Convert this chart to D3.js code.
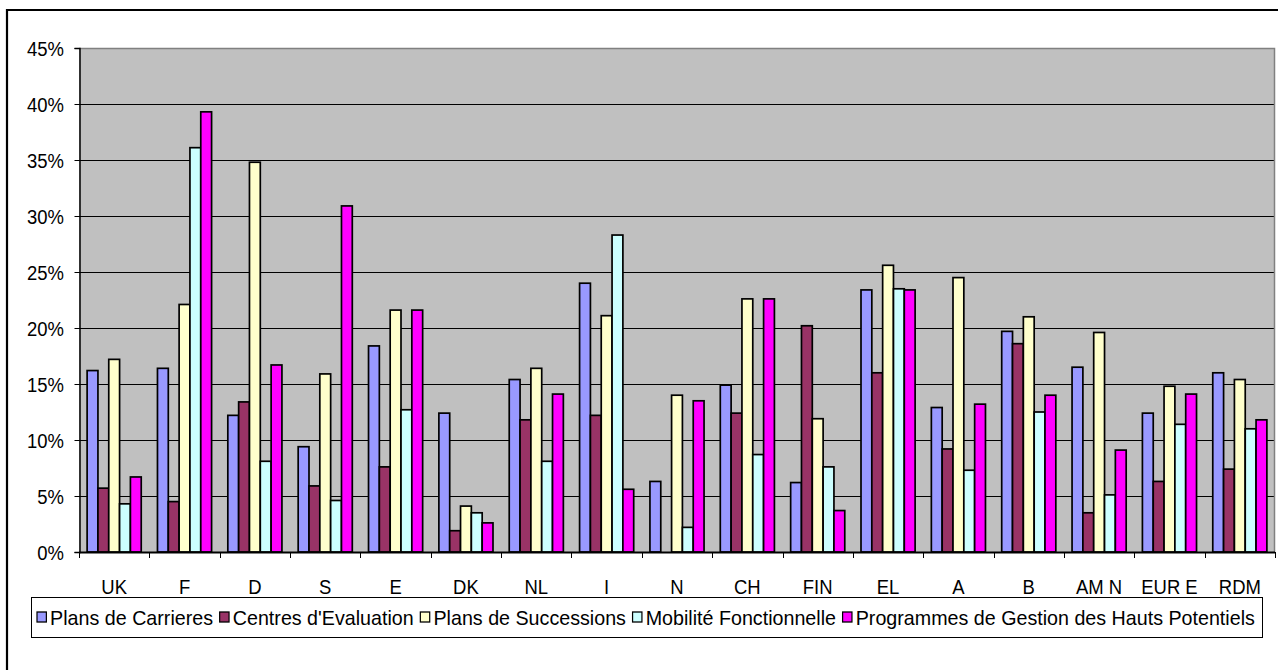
<!DOCTYPE html>
<html>
<head>
<meta charset="utf-8">
<script src="https://cdn.jsdelivr.net/npm/d3@7"></script>
<style>
  html, body { margin: 0; padding: 0; background: #fff; }
  svg { display: block; font-family: "Liberation Sans", Arial, sans-serif; }
</style>
</head>
<body>
<svg id="chart" width="1278" height="670"></svg>
<script>
// Countries / regions on the category axis
const categories = ["UK", "F", "D", "S", "E", "DK", "NL", "I", "N", "CH", "FIN", "EL", "A", "B", "AM N", "EUR E", "RDM"];

// Share of companies using each practice (%)
const plansCarrieres     = [16.2, 16.4, 12.2, 9.4, 18.4, 12.4, 15.4, 24.0, 6.3, 14.9, 6.2, 23.4, 12.9, 19.7, 16.5, 12.4, 16.0];
const centresEvaluation  = [5.7, 4.5, 13.4, 5.9, 7.6, 1.9, 11.8, 12.2, 0, 12.4, 20.2, 16.0, 9.2, 18.6, 3.5, 6.3, 7.4];
const plansSuccessions   = [17.2, 22.1, 34.8, 15.9, 21.6, 4.1, 16.4, 21.1, 14.0, 22.6, 11.9, 25.6, 24.5, 21.0, 19.6, 14.8, 15.4];
const mobiliteFonction   = [4.3, 36.1, 8.1, 4.6, 12.7, 3.5, 8.1, 28.3, 2.2, 8.7, 7.6, 23.5, 7.3, 12.5, 5.1, 11.4, 11.0];
const programmesHautsPot = [6.7, 39.3, 16.7, 30.9, 21.6, 2.6, 14.1, 5.6, 13.5, 22.6, 3.7, 23.4, 13.2, 14.0, 9.1, 14.1, 11.8];

const seriesNames = ["Plans de Carrieres", "Centres d'Evaluation", "Plans de Successions",
                     "Mobilité Fonctionnelle", "Programmes de Gestion des Hauts Potentiels"];
const seriesColors = ["#9999FF", "#993366", "#FFFFCC", "#CCFFFF", "#FF00FF"];
const yTicks = [0, 5, 10, 15, 20, 25, 30, 35, 40, 45];

const seriesValues = [plansCarrieres, centresEvaluation, plansSuccessions, mobiliteFonction, programmesHautsPot];
const series = seriesNames.map((name, i) => ({ name, color: seriesColors[i], values: seriesValues[i] }));

const svg = d3.select("#chart");
const FONT = 21;        // tall, slightly condensed Arial-style lettering
const SQUEEZE = 0.88;   // horizontal compression of the lettering

// Outer chart frame (runs off the right and bottom edges)
svg.append("path")
  .attr("d", "M7,672 V10 H1280")
  .attr("fill", "none")
  .attr("stroke", "#000")
  .attr("stroke-width", 2.2);

const plot = { left: 79, right: 1275, top: 48, bottom: 552 };

const x0 = d3.scaleBand()
  .domain(categories)
  .range([plot.left, plot.right])
  .paddingInner(0)
  .paddingOuter(0);

// Excel-like gap width of 150% between clusters
const barW = x0.bandwidth() / 6.5;
const x1 = d3.scaleBand()
  .domain(seriesNames)
  .range([barW * 0.75, barW * 5.75]);

const y = d3.scaleLinear().domain([0, 45]).range([plot.bottom, plot.top]);

// Plot area background
svg.append("rect")
  .attr("x", plot.left).attr("y", plot.top)
  .attr("width", plot.right - plot.left).attr("height", plot.bottom - plot.top)
  .attr("fill", "#C0C0C0");

// Horizontal gridlines
svg.append("g")
  .selectAll("line")
  .data(yTicks.filter(t => t > 0 && t < 45))
  .join("line")
  .attr("x1", plot.left).attr("x2", plot.right)
  .attr("y1", d => Math.round(y(d)) + 0.5).attr("y2", d => Math.round(y(d)) + 0.5)
  .attr("stroke", "#000").attr("stroke-width", 1.2);

// Top and right border of the plot area
svg.append("path")
  .attr("d", `M${plot.left},${plot.top + 0.5} H${plot.right - 0.5} V${plot.bottom}`)
  .attr("fill", "none").attr("stroke", "#808080").attr("stroke-width", 1.5);

// Bars
const groups = svg.append("g")
  .selectAll("g")
  .data(categories)
  .join("g")
  .attr("transform", d => `translate(${x0(d)},0)`);

groups.selectAll("rect")
  .data((d, ci) => series.map(s => ({ name: s.name, color: s.color, v: s.values[ci] })).filter(b => b.v > 0))
  .join("rect")
  .attr("x", d => x1(d.name))
  .attr("y", d => y(d.v))
  .attr("width", x1.bandwidth())
  .attr("height", d => y(0) - y(d.v))
  .attr("fill", d => d.color)
  .attr("stroke", "#000")
  .attr("stroke-width", 1.7);

// Y axis (labels drawn separately so they can be condensed)
const yAxis = d3.axisLeft(y)
  .tickValues(yTicks)
  .tickSize(5)
  .tickFormat("");
const yG = svg.append("g")
  .attr("transform", `translate(${plot.left + 0.5},0)`)
  .call(yAxis);
yG.select(".domain").attr("stroke", "#000").attr("stroke-width", 1.5);
yG.selectAll(".tick line").attr("stroke", "#000");

svg.append("g")
  .selectAll("text")
  .data(yTicks)
  .join("text")
  .attr("transform", d => `translate(64,${y(d) + 7.5}) scale(${SQUEEZE},1)`)
  .attr("text-anchor", "end")
  .attr("font-size", FONT)
  .attr("fill", "#000")
  .text(d => d + "%");

// X axis: ticks at category boundaries, labels centred under clusters
const boundaries = d3.range(categories.length + 1).map(i => plot.left + i * x0.bandwidth());
svg.append("line")
  .attr("x1", plot.left).attr("x2", plot.right)
  .attr("y1", plot.bottom + 0.5).attr("y2", plot.bottom + 0.5)
  .attr("stroke", "#000").attr("stroke-width", 2);
svg.append("g")
  .selectAll("line")
  .data(boundaries)
  .join("line")
  .attr("x1", d => Math.round(d) + 0.5).attr("x2", d => Math.round(d) + 0.5)
  .attr("y1", plot.bottom).attr("y2", plot.bottom + 6)
  .attr("stroke", "#000");

svg.append("g")
  .selectAll("text")
  .data(categories)
  .join("text")
  .attr("transform", d => `translate(${x0(d) + x0.bandwidth() / 2},594) scale(${SQUEEZE},1)`)
  .attr("text-anchor", "middle")
  .attr("font-size", FONT)
  .attr("fill", "#000")
  .text(d => d);

// Legend
const legend = { left: 31, right: 1262, top: 597, bottom: 637 };
svg.append("rect")
  .attr("x", legend.left + 0.5).attr("y", legend.top + 0.5)
  .attr("width", legend.right - legend.left).attr("height", legend.bottom - legend.top)
  .attr("fill", "#fff").attr("stroke", "#000").attr("stroke-width", 1);

const midY = (legend.top + legend.bottom) / 2;
const items = svg.append("g");
let cx = 0;
series.forEach(s => {
  items.append("rect")
    .attr("x", cx).attr("y", midY - 5)
    .attr("width", 10).attr("height", 10)
    .attr("fill", s.color).attr("stroke", "#000").attr("stroke-width", 1.3);
  const t = items.append("text")
    .attr("x", cx + 14)
    .attr("y", midY + 7.5)
    .attr("font-size", FONT)
    .attr("fill", "#000")
    .text(s.name);
  cx += 14 + t.node().getComputedTextLength() + 7;
});
// fit the row of entries inside the legend box
const rowW = cx - 7;
const avail = (legend.right - 7) - (legend.left + 6);
items.attr("transform", `translate(${legend.left + 6},0) scale(${avail / rowW},1)`);
</script>
</body>
</html>
